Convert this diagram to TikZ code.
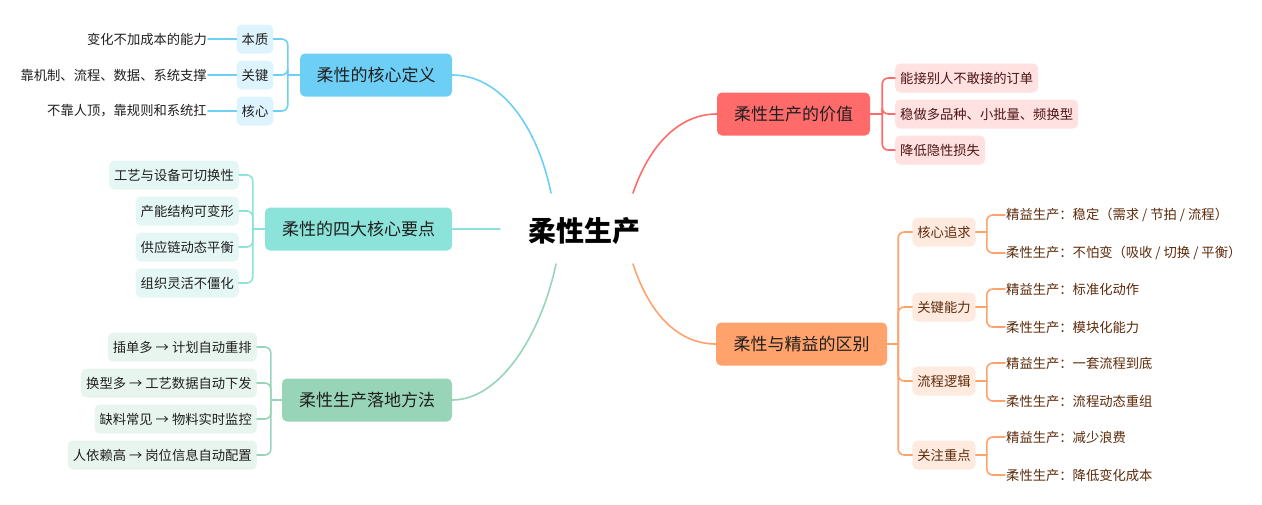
\documentclass[tikz,border=0pt]{standalone}
\usepackage{fontspec}
\setmainfont{Noto Sans CJK SC}
\usepackage{xcolor}
\definecolor{cBlue}{HTML}{6DCFF6}
\definecolor{cBlueL}{HTML}{DDF3FD}
\definecolor{cTeal}{HTML}{8BE3D9}
\definecolor{cTealL}{HTML}{E4F7F4}
\definecolor{cGreen}{HTML}{98D5B8}
\definecolor{cGreenL}{HTML}{E8F5EE}
\definecolor{cRed}{HTML}{FF6B6B}
\definecolor{cRedL}{HTML}{FFE1E1}
\definecolor{cRedT}{HTML}{4D1414}
\definecolor{cOrange}{HTML}{FFA26B}
\definecolor{cOrangeL}{HTML}{FFEADF}
\definecolor{cOrangeT}{HTML}{5C2A0A}
\definecolor{cText}{HTML}{1F1F1F}
\usepackage{tikz}
\usetikzlibrary{positioning,calc}
\tikzset{
  node-root/.style={font=\bfseries\fontsize{28}{32}\selectfont,text=black},
  node-main/.style={rounded corners=5pt,minimum height=43,inner xsep=6pt,
    text=cText,font=\fontsize{17}{20}\selectfont},
  node-sub/.style={rounded corners=5pt,minimum height=29,inner xsep=5pt,
    text=cText,font=\fontsize{13.3}{15}\selectfont},
  node-leaf/.style={inner xsep=1pt,text=cText,font=\fontsize{13.3}{15}\selectfont},
  link/.style={line width=1.6pt,line cap=round,rounded corners=6pt},
}

\begin{document}
\begin{tikzpicture}[x=1pt,y=-1pt]
  \useasboundingbox (0,0) rectangle (1262,504);
  % 中心主题
  \node[node-root] (root) at (584,231) {柔性生产};
  \coordinate (rootNW) at (551,193);
  \coordinate (rootNE) at (633,193);
  \coordinate (rootW) at (500,229);
  \coordinate (rootSW) at (556,264);
  \coordinate (rootSE) at (633,264);

  % 一级分支
  \node[node-main,fill=cBlue,minimum width=152] (def) at (376,75) {柔性的核心定义};
  \node[node-main,fill=cTeal,minimum width=187] (key) at (358.5,229) {柔性的四大核心要点};
  \node[node-main,fill=cGreen,minimum width=170] (way) at (367,400) {柔性生产落地方法};
  \node[node-main,fill=cRed,minimum width=153] (val) at (793.5,114) {柔性生产的价值};
  \node[node-main,fill=cOrange,minimum width=171] (dif) at (801.5,344) {柔性与精益的区别};

  \draw[link,draw=cBlue] (rootNW) .. controls (537,125) and (500,75) .. (def.east);
  \draw[link,draw=cTeal] (rootW) -- (key.east);
  \draw[link,draw=cGreen] (rootSW) .. controls (541,335) and (500,400) .. (way.east);
  \draw[link,draw=cRed] (rootNE) .. controls (652,138) and (684,114) .. (val.west);
  \draw[link,draw=cOrange] (rootSE) .. controls (652,322) and (684,344) .. (dif.west);

  % 核心定义
  \node[node-sub,fill=cBlueL] (def-a) at (255,39) {本质};
  \node[node-sub,fill=cBlueL] (def-b) at (255,75) {关键};
  \node[node-sub,fill=cBlueL] (def-c) at (255,111) {核心};
  \node[node-leaf,anchor=east] (def-a1) at (208,39) {变化不加成本的能力};
  \node[node-leaf,anchor=east] (def-b1) at (208,75) {靠机制、流程、数据、系统支撑};
  \node[node-leaf,anchor=east] (def-c1) at (208,111) {不靠人顶，靠规则和系统扛};
  \draw[link,draw=cBlue] (def.west) -- ++(-12,0) coordinate (def-j);
  \foreach \k in {a,b,c}{
    \draw[link,draw=cBlue] (def-j) |- (def-\k.east);
    \draw[link,draw=cBlue] (def-\k.west) -- (def-\k1.east);
  }

  % 四大核心要点
  \node[node-sub,fill=cTealL,anchor=east] (key-a) at (239,175) {工艺与设备可切换性};
  \node[node-sub,fill=cTealL,anchor=east] (key-b) at (239,211) {产能结构可变形};
  \node[node-sub,fill=cTealL,anchor=east] (key-c) at (239,247) {供应链动态平衡};
  \node[node-sub,fill=cTealL,anchor=east] (key-d) at (239,283) {组织灵活不僵化};
  \draw[link,draw=cTeal] (key.west) -- ++(-12,0) coordinate (key-j);
  \foreach \k in {a,b,c,d}
    \draw[link,draw=cTeal] (key-j) |- (key-\k.east);

  % 落地方法
  \node[node-sub,fill=cGreenL,anchor=east] (way-a) at (257,347) {插单多 → 计划自动重排};
  \node[node-sub,fill=cGreenL,anchor=east] (way-b) at (257,383) {换型多 → 工艺数据自动下发};
  \node[node-sub,fill=cGreenL,anchor=east] (way-c) at (257,419) {缺料常见 → 物料实时监控};
  \node[node-sub,fill=cGreenL,anchor=east] (way-d) at (257,455) {人依赖高 → 岗位信息自动配置};
  \draw[link,draw=cGreen] (way.west) -- ++(-11,0) coordinate (way-j);
  \foreach \k in {a,b,c,d}
    \draw[link,draw=cGreen] (way-j) |- (way-\k.east);

  % 价值
  \node[node-sub,fill=cRedL,text=cRedT,anchor=west] (val-a) at (895,78) {能接别人不敢接的订单};
  \node[node-sub,fill=cRedL,text=cRedT,anchor=west] (val-b) at (895,114) {稳做多品种、小批量、频换型};
  \node[node-sub,fill=cRedL,text=cRedT,anchor=west] (val-c) at (895,150) {降低隐性损失};
  \draw[link,draw=cRed] (val.east) -- ++(12,0) coordinate (val-j);
  \foreach \k in {a,b,c}
    \draw[link,draw=cRed] (val-j) |- (val-\k.west);

  % 柔性与精益
  \node[node-sub,fill=cOrangeL,text=cOrangeT] (dif-a) at (944,232) {核心追求};
  \node[node-sub,fill=cOrangeL,text=cOrangeT] (dif-b) at (944,307) {关键能力};
  \node[node-sub,fill=cOrangeL,text=cOrangeT] (dif-c) at (944,381) {流程逻辑};
  \node[node-sub,fill=cOrangeL,text=cOrangeT] (dif-d) at (944,455) {关注重点};
  \node[node-leaf,text=cOrangeT,anchor=west] (dif-a1) at (1005,215) {精益生产：稳定（需求 / 节拍 / 流程）};
  \node[node-leaf,text=cOrangeT,anchor=west] (dif-a2) at (1005,253) {柔性生产：不怕变（吸收 / 切换 / 平衡）};
  \node[node-leaf,text=cOrangeT,anchor=west] (dif-b1) at (1005,289) {精益生产：标准化动作};
  \node[node-leaf,text=cOrangeT,anchor=west] (dif-b2) at (1005,327) {柔性生产：模块化能力};
  \node[node-leaf,text=cOrangeT,anchor=west] (dif-c1) at (1005,363) {精益生产：一套流程到底};
  \node[node-leaf,text=cOrangeT,anchor=west] (dif-c2) at (1005,401) {柔性生产：流程动态重组};
  \node[node-leaf,text=cOrangeT,anchor=west] (dif-d1) at (1005,437) {精益生产：减少浪费};
  \node[node-leaf,text=cOrangeT,anchor=west] (dif-d2) at (1005,475) {柔性生产：降低变化成本};
  \draw[link,draw=cOrange] (dif.east) -- ++(11,0) coordinate (dif-j);
  \foreach \k in {a,b,c,d}{
    \draw[link,draw=cOrange] (dif-j) |- (dif-\k.west);
    \draw[link,draw=cOrange] (dif-\k.east) -- ++(11,0) coordinate (dif-\k j);
    \draw[link,draw=cOrange] (dif-\k j) |- (dif-\k1.west);
    \draw[link,draw=cOrange] (dif-\k j) |- (dif-\k2.west);
  }
\end{tikzpicture}
\end{document}
